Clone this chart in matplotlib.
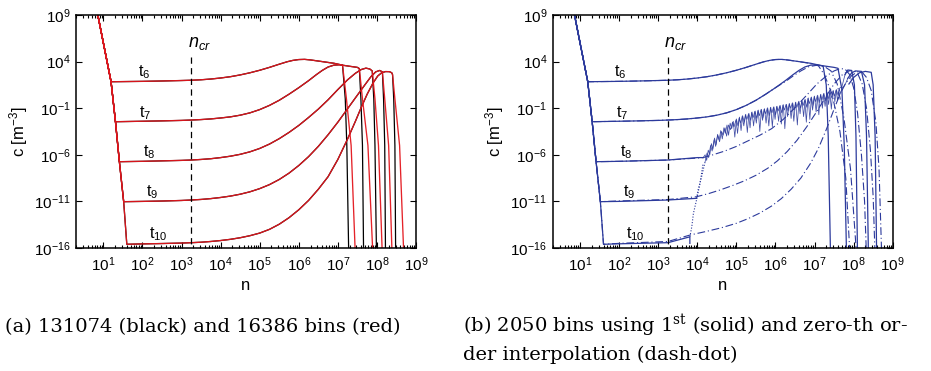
"""Cluster size distributions c(n) at t6..t10: fine-bin reference vs 2050-bin runs."""
import numpy as np
import matplotlib
matplotlib.use("Agg")
import matplotlib.pyplot as plt
from matplotlib.ticker import LogLocator, NullLocator, NullFormatter

plt.rcParams.update({
    "font.family": ["Liberation Sans", "DejaVu Sans"],
    "mathtext.fontset": "custom",
    "mathtext.rm": "Liberation Sans",
    "mathtext.it": "Liberation Sans:italic",
    "mathtext.sf": "DejaVu Serif",
})

RED = "#e3161d"
BLUE = "#2c3a9c"

# all values below are log10(n), log10(c)
STEEP_N = [0.83, 1.197, 1.31, 1.41, 1.52, 1.60]
STEEP_C = [9.6, 1.84, -2.45, -6.74, -11.03, -15.6]

T6_N = [2.0, 2.5, 3.0, 3.25, 3.5, 3.75, 4.0, 4.25, 4.5, 4.75, 5.0, 5.25, 5.5, 5.7, 5.85,
        6.0, 6.15, 6.3, 6.6, 6.9, 7.12]
T6_C = [1.88, 1.92, 1.97, 2.0, 2.05, 2.13, 2.24, 2.38, 2.57, 2.8, 3.07, 3.38, 3.72, 3.98, 4.13,
        4.22, 4.24, 4.18, 4.0, 3.82, 3.62]
T7_N = [2.0, 2.5, 3.0, 3.25, 3.5, 3.75, 4.0, 4.25, 4.5, 4.75, 5.0, 5.25, 5.5, 5.75, 6.0,
        6.25, 6.45, 6.6, 6.75, 6.9, 7.05, 7.3, 7.5, 7.55]
T7_C = [-2.4, -2.36, -2.31, -2.27, -2.22, -2.15, -2.05, -1.93, -1.75, -1.5, -1.15, -0.7, -0.15,
        0.5, 1.2, 1.95, 2.6, 3.05, 3.42, 3.62, 3.66, 3.5, 3.38, 3.25]
T8_N = [2.0, 2.5, 3.0, 3.25, 3.5, 3.75, 4.0, 4.25, 4.5, 4.75, 5.0, 5.25, 5.5, 5.75, 6.0,
        6.25, 6.5, 6.75, 7.0, 7.25, 7.45, 7.6, 7.72, 7.82, 7.88]
T8_C = [-6.7, -6.65, -6.6, -6.56, -6.5, -6.42, -6.3, -6.15, -5.95, -5.68, -5.32, -4.85, -4.27,
        -3.6, -2.85, -2.0, -1.1, -0.1, 1.0, 2.05, 2.75, 3.15, 3.3, 3.2, 3.0]
T9_N = [2.0, 2.5, 3.0, 3.25, 3.5, 3.75, 4.0, 4.25, 4.5, 4.75, 5.0, 5.25, 5.5, 5.75, 6.0,
        6.25, 6.5, 6.75, 7.0, 7.25, 7.5, 7.7, 7.85, 7.97, 8.07, 8.14]
T9_C = [-11.0, -10.96, -10.9, -10.85, -10.79, -10.7, -10.58, -10.43, -10.23, -9.97, -9.63, -9.2,
        -8.65, -7.97, -7.15, -6.2, -5.1, -3.85, -2.5, -1.05, 0.4, 1.55, 2.4, 2.9, 3.05, 2.9]
T10_N = [2.0, 2.5, 3.0, 3.25, 3.5, 3.75, 4.0, 4.25, 4.5, 4.75, 5.0, 5.25, 5.5, 5.75, 6.0,
         6.25, 6.5, 6.75, 7.0, 7.25, 7.45, 7.6, 7.75, 7.9, 8.02, 8.12, 8.22, 8.32, 8.38, 8.4]
T10_C = [-15.56, -15.52, -15.47, -15.43, -15.38, -15.3, -15.2, -15.07, -14.9, -14.68, -14.4,
         -14.0, -13.45, -12.75, -11.9, -10.9, -9.7, -8.35, -6.5, -4.3, -2.4, -0.9, 0.5, 1.7,
         2.45, 2.8, 2.93, 2.92, 2.8, 2.6]

TAIL_C = [0.0, -5.0, -17.0]
BLACK_TAIL_N = [[7.19, 7.23, 7.28], [7.59, 7.63, 7.66], [7.92, 7.95, 7.99],
                [8.17, 8.20, 8.22], [8.43, 8.46, 8.48]]
RED_TAIL_N = [[7.22, 7.34, 7.45], [7.63, 7.77, 7.90], [7.95, 8.04, 8.14],
              [8.20, 8.30, 8.39], [8.46, 8.58, 8.69]]

# panel (b), first-order (solid)
B6_TAIL = ([7.22, 7.3, 7.35, 7.41], [3.5, 1.5, -4.0, -17.0])
B7_TAIL = ([7.6, 7.7, 7.76, 7.82], [3.28, 1.0, -5.0, -17.0])
B8_PLAT = ([2.0, 3.25, 4.0, 4.15], [-6.7, -6.56, -6.3, -6.3])
B8_TAIL = ([7.78, 7.85, 7.95, 8.02, 8.06, 8.10], [2.6, 3.1, 3.05, 1.5, -4.0, -17.0])
B9_PLAT = ([2.0, 3.25, 3.98], [-11.0, -10.85, -10.67])
B9_ENTRY = ([3.98, 4.02, 4.11, 4.20], [-10.67, -9.78, -8.35, -6.74])
B9_TAIL = ([7.85, 7.95, 8.05, 8.2, 8.28, 8.33, 8.38], [2.2, 2.8, 3.0, 2.95, 1.5, -4.0, -17.0])
B10_PLAT = ([2.0, 3.25, 3.81, 3.81], [-15.55, -15.43, -14.8, -15.5])
B10_ENTRY = ([3.81, 3.86, 3.90, 3.98, 4.07, 4.15], [-14.8, -13.7, -12.3, -10.85, -9.06, -6.9])
B10_TAIL = ([7.88, 8.0, 8.15, 8.3, 8.45, 8.5, 8.55, 8.59], [1.6, 2.3, 2.8, 2.95, 2.85, 1.5, -4.0, -17.0])

BAND_A_N = [4.15, 4.2, 4.24, 4.28, 4.32, 4.36, 4.40, 4.44, 4.48, 4.52, 4.56, 4.60, 4.64, 4.68,
            4.72, 4.76, 4.80, 4.84, 4.88, 4.92, 4.96, 5.00, 5.04, 5.08, 5.12, 5.16, 5.20, 5.24,
            5.28, 5.32, 5.36, 5.40, 5.44, 5.48, 5.52, 5.56, 5.60, 5.64, 5.68, 5.72, 5.76, 5.80,
            5.84, 5.88, 5.92, 5.96, 6.00, 6.04, 6.08, 6.12, 6.16, 6.20, 6.24, 6.28, 6.32, 6.36,
            6.40, 6.44, 6.48, 6.52, 6.56, 6.60, 6.64, 6.68, 6.72, 6.76, 6.80, 6.84, 6.88, 6.92,
            6.96, 7.00, 7.04, 7.08, 7.12, 7.16, 7.20, 7.24, 7.28, 7.32, 7.36, 7.40, 7.44, 7.48,
            7.52, 7.56, 7.60, 7.64, 7.70, 7.78]
BAND_A_C = [-6.3, -6.0, -6.6, -5.5, -6.0, -4.8, -5.4, -4.2, -4.9, -3.8, -4.4, -3.4, -4.3, -3.1,
            -3.7, -2.8, -3.9, -2.6, -3.2, -2.4, -4.1, -2.15, -2.9, -1.95, -3.4, -1.8, -2.5, -1.65,
            -3.6, -1.55, -2.3, -1.4, -2.9, -1.3, -2.1, -1.2, -3.5, -1.12, -2.0, -1.05, -2.6, -0.95,
            -1.8, -0.9, -3.0, -0.85, -1.7, -0.78, -2.4, -0.7, -1.5, -0.62, -3.2, -0.58, -1.3, -0.5,
            -2.1, -0.42, -1.2, -0.35, -2.8, -0.25, -1.0, -0.18, -1.9, -0.05, -0.9, 0.1, -2.2, 0.2,
            -0.7, 0.3, -1.4, 0.4, -0.4, 0.5, -1.0, 0.6, -0.2, 0.7, -0.6, 0.8, 0.1, 0.9,
            -0.3, 1.0, 0.4, 1.15, 1.3, 2.6]
BAND_B_N = [4.20, 4.25, 4.29, 4.34, 4.38, 4.43, 4.47, 4.52, 4.57, 4.62, 4.66, 4.71, 4.75, 4.80,
            4.85, 4.90, 4.94, 4.99, 5.03, 5.07, 5.11, 5.15, 5.19, 5.23, 5.27, 5.31, 5.35, 5.39,
            5.43, 5.47, 5.51, 5.55, 5.59, 5.63, 5.67, 5.71, 5.75, 5.79, 5.83, 5.87, 5.91, 5.95,
            5.99, 6.03, 6.07, 6.11, 6.15, 6.19, 6.23, 6.27, 6.31, 6.35, 6.39, 6.43, 6.47, 6.51,
            6.55, 6.59, 6.63, 6.67, 6.71, 6.75, 6.79, 6.83, 6.87, 6.91, 6.95, 6.99, 7.03, 7.07,
            7.11, 7.15, 7.19, 7.23, 7.27, 7.31, 7.35, 7.39, 7.43, 7.47, 7.51, 7.55, 7.59, 7.63,
            7.67, 7.71, 7.75, 7.80, 7.85]
BAND_B_C = [-6.74, -5.8, -6.3, -5.0, -5.6, -4.4, -5.1, -3.9, -4.6, -3.5, -3.9, -3.1, -4.0, -2.8,
            -3.3, -2.5, -3.0, -2.25, -3.7, -2.05, -2.6, -1.85, -2.9, -1.7, -2.2, -1.6, -3.1, -1.45,
            -2.0, -1.35, -2.6, -1.25, -1.8, -1.15, -2.3, -1.1, -1.6, -1.0, -2.9, -0.92, -1.5, -0.88,
            -2.2, -0.82, -1.3, -0.74, -2.7, -0.66, -1.2, -0.6, -1.9, -0.52, -1.0, -0.45, -2.4, -0.38,
            -0.9, -0.3, -1.6, -0.2, -0.7, -0.1, -2.5, 0.05, -0.5, 0.15, -1.2, 0.25, -0.3, 0.35,
            -1.7, 0.45, -0.1, 0.55, -0.8, 0.65, 0.0, 0.75, -1.1, 0.85, 0.3, 0.95, -0.2, 1.05,
            0.6, 1.2, 1.35, 1.7, 2.2]

# panel (b), zero-th order (dash-dot), after the steep part
DD6_END = ([6.9, 7.1, 7.25, 7.45, 7.65, 7.8, 7.91], [3.8, 3.55, 2.6, 0.5, -3.5, -8.5, -17.0])
DD7_END = ([6.25, 6.45, 6.65, 6.85, 7.05, 7.25, 7.42, 7.58, 7.75, 7.92, 8.08],
           [1.85, 2.45, 3.0, 3.45, 3.6, 3.48, 3.0, 1.6, -2.0, -7.5, -17.0])
DD8 = ([2.0, 3.25, 4.0, 4.15, 4.4, 4.7, 5.0, 5.3, 5.6, 5.9, 6.2, 6.5, 6.8, 7.06, 7.3, 7.5,
        7.65, 7.78, 7.9, 8.0, 8.1, 8.2, 8.28, 8.33],
       [-6.7, -6.56, -6.35, -6.3, -6.0, -5.6, -5.1, -4.5, -3.9, -3.2, -2.2, -0.95, 0.4, 1.6,
        2.45, 3.0, 3.25, 3.2, 2.6, 1.2, -1.5, -6.0, -11.0, -17.0])
DD9 = ([2.0, 3.25, 3.98, 4.3, 4.6, 4.9, 5.2, 5.5, 5.8, 6.05, 6.3, 6.55, 6.8, 7.05, 7.3, 7.5,
        7.7, 7.88, 8.0, 8.1, 8.22, 8.33, 8.43, 8.5, 8.55],
       [-10.95, -10.8, -10.5, -10.15, -9.75, -9.3, -8.8, -8.2, -7.45, -6.65, -5.65, -4.45,
        -3.0, -1.4, 0.3, 1.6, 2.55, 3.0, 3.05, 2.75, 1.6, -1.0, -5.5, -10.5, -17.0])
DD10 = ([2.0, 3.25, 3.82, 4.2, 4.6, 5.0, 5.3, 5.6, 5.9, 6.15, 6.4, 6.65, 6.9, 7.1, 7.3, 7.5,
         7.65, 7.8, 7.95, 8.1, 8.22, 8.33, 8.45, 8.57, 8.65, 8.72],
        [-15.5, -15.3, -14.6, -14.25, -13.85, -13.35, -12.85, -12.25, -11.5, -10.7, -9.7, -8.5,
         -6.9, -5.3, -3.3, -1.1, 0.5, 1.7, 2.5, 2.9, 2.85, 2.3, 0.9, -2.5, -7.5, -17.0])

LABELS = ["6", "7", "8", "9", "10"]
LABEL_N = [1.88, 1.92, 2.01, 2.09, 2.18]
LABEL_C = [2.38, -1.98, -6.2, -10.49, -14.96]
NCR = 3.25


def path(*pieces):
    n = np.concatenate([np.asarray(p[0], float) for p in pieces])
    c = np.concatenate([np.asarray(p[1], float) for p in pieces])
    return 10.0 ** n, 10.0 ** c


def steep(k):
    return STEEP_N[:k + 2], STEEP_C[:k + 2]


def style(ax):
    ax.set_xscale("log")
    ax.set_yscale("log")
    ax.set_xlim(10 ** 0.3, 1e9)
    ax.set_ylim(1e-16, 1e9)
    ax.xaxis.set_major_locator(LogLocator(base=10, numticks=20))
    ax.xaxis.set_minor_locator(LogLocator(base=10, subs=np.arange(2, 10), numticks=20))
    ax.xaxis.set_minor_formatter(NullFormatter())
    ax.set_yticks([1e9, 1e4, 1e-1, 1e-6, 1e-11, 1e-16])
    ax.yaxis.set_minor_locator(NullLocator())
    ax.tick_params(which="both", direction="in", top=True, right=True, labelsize=11,
                   width=0.8)
    ax.tick_params(which="major", length=4)
    ax.tick_params(axis="x", which="major", pad=5)
    ax.tick_params(axis="y", which="major", pad=4)
    ax.tick_params(which="minor", length=2)
    for s in ax.spines.values():
        s.set_linewidth(1.1)
    ax.set_xlabel("n", fontsize=12, labelpad=3)
    ax.set_ylabel("c [m$^{-3}$]", fontsize=12, labelpad=3)
    ax.plot([10 ** NCR, 10 ** NCR], [10 ** 4.53, 1e-16], color="k", lw=0.9,
            ls=(0, (5, 3.5)))
    ax.text(10 ** 3.16, 10 ** 5.6, r"$n_{cr}$", fontsize=13)
    for lab, x, y in zip(LABELS, LABEL_N, LABEL_C):
        ax.text(10 ** x, 10 ** y, r"$\mathregular{t_{%s}}$" % lab, fontsize=11.5,
                va="baseline")


fig = plt.figure(figsize=(9.31, 3.71), dpi=100)
ax_a = fig.add_axes([76 / 931, 123 / 371, 340 / 931, 233 / 371])
ax_b = fig.add_axes([552.7 / 931, 123 / 371, 340 / 931, 233 / 371])

bodies = [(T6_N, T6_C), (T7_N, T7_C), (T8_N, T8_C), (T9_N, T9_C), (T10_N, T10_C)]

# (a) black = 131074 bins, red = 16386 bins
for k, body in enumerate(bodies):
    ax_a.plot(*path(steep(k), body, (BLACK_TAIL_N[k], TAIL_C)), color="k", lw=0.9)
for k, body in enumerate(bodies):
    ax_a.plot(*path(steep(k), body, (RED_TAIL_N[k], TAIL_C)), color=RED, lw=0.95, alpha=0.95)
style(ax_a)

# (b) 2050 bins
sol = dict(color=BLUE, lw=0.9)
dd = dict(color=BLUE, lw=0.8, ls=(0, (7, 2.5, 1, 2.5)))
thin = dict(color=BLUE, lw=0.55, alpha=0.9)
dot = dict(color=BLUE, lw=0.8, ls=(0, (1, 1.5)))

ax_b.plot(*path(steep(0), bodies[0], B6_TAIL), **sol)
ax_b.plot(*path(steep(1), (T7_N[:-1], T7_C[:-1]), B7_TAIL), **sol)
ax_b.plot(*path(steep(2), B8_PLAT), **sol)
ax_b.plot(*path((BAND_A_N, BAND_A_C)), **thin)
ax_b.plot(*path(B8_TAIL), **sol)
ax_b.plot(*path(steep(3), B9_PLAT), **sol)
ax_b.plot(*path(B9_ENTRY), **dot)
ax_b.plot(*path((BAND_B_N, BAND_B_C)), **thin)
ax_b.plot(*path(B9_TAIL), **sol)
ax_b.plot(*path(steep(4), B10_PLAT), **sol)
ax_b.plot(*path(B10_ENTRY), **dot)
ax_b.plot(*path(B10_TAIL), **sol)

ax_b.plot(*path(steep(0), (T6_N[:19], T6_C[:19]), DD6_END), **dd)
ax_b.plot(*path(steep(1), (T7_N[:15], T7_C[:15]), DD7_END), **dd)
ax_b.plot(*path(steep(2), DD8), **dd)
ax_b.plot(*path(steep(3), DD9), **dd)
ax_b.plot(*path(steep(4), DD10), **dd)
style(ax_b)

cap = dict(fontsize=14, family="DejaVu Serif", va="baseline")
fig.text(5 / 931, 1 - 332 / 371, "(a) 131074 (black) and 16386 bins (red)", **cap)
fig.text(463 / 931, 1 - 332 / 371,
         r"(b) 2050 bins using 1$^{\mathsf{st}}$ (solid) and zero-th or-", **cap)
fig.text(463 / 931, 1 - 360 / 371, "der interpolation (dash-dot)", **cap)

fig.savefig("out.png", dpi=100)
